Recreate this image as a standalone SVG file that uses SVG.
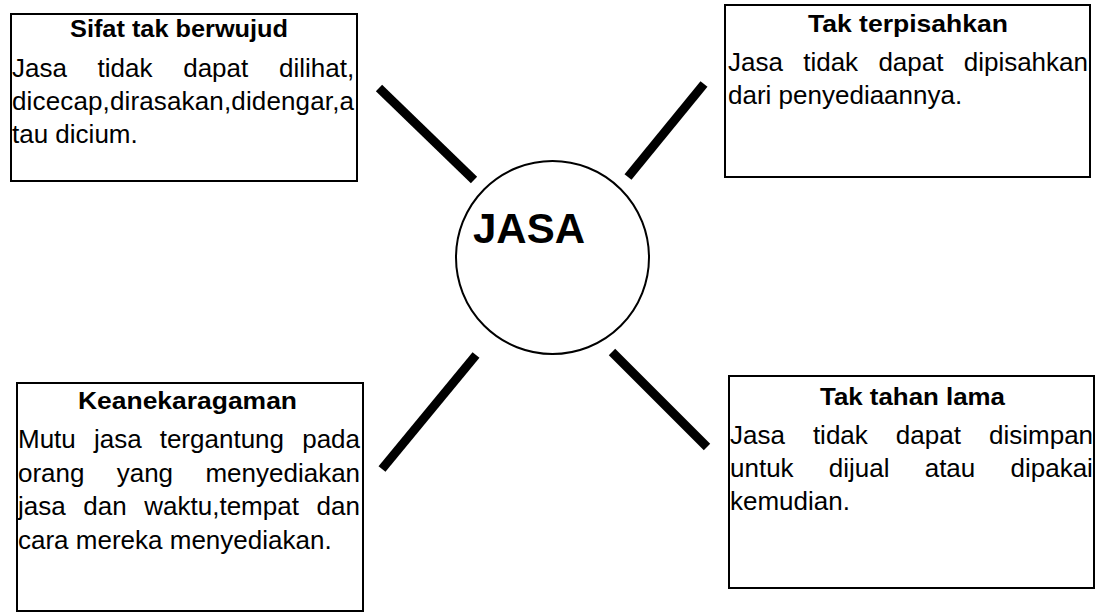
<svg xmlns="http://www.w3.org/2000/svg" width="1097" height="615" viewBox="0 0 1097 615">
  <style>
    .box { fill: #fff; stroke: #000; stroke-width: 2; }
    .hub { fill: #fff; stroke: #000; stroke-width: 2; }
    .title { font-family: "Liberation Sans", Arial, sans-serif; font-weight: bold; font-size: 24px; fill: #000; }
    .body { font-family: "Liberation Sans", Arial, sans-serif; font-size: 26px; fill: #000; }
    .hubtext { font-family: "Liberation Sans", Arial, sans-serif; font-weight: bold; font-size: 42px; fill: #000; }
    .spoke { stroke: #000; stroke-width: 9; stroke-linecap: butt; fill: none; }
  </style>
  <rect width="1097" height="615" fill="#fff"/>

  <!-- spokes from the centre circle to the four boxes -->
  <g id="connectors">
    <line class="spoke" x1="379" y1="88" x2="474" y2="180"/>
    <line class="spoke" x1="704" y1="84" x2="628" y2="177"/>
    <line class="spoke" x1="476" y1="355" x2="382" y2="469"/>
    <line class="spoke" x1="612" y1="352" x2="707" y2="447"/>
  </g>

  <g id="jasa">
    <circle class="hub" cx="552.5" cy="257.5" r="96.5"/>
    <text class="hubtext" x="473" y="243">JASA</text>
  </g>

  <!-- body lines are justified: first word flush left, last word flush right -->
  <g id="sifat-tak-berwujud">
    <rect class="box" x="11" y="14" width="346" height="167"/>
    <text class="title" x="70" y="37" textLength="218" lengthAdjust="spacingAndGlyphs">Sifat tak berwujud</text>
    <text class="body" y="77"><tspan x="12">Jasa</tspan><tspan x="97.6">tidak</tspan><tspan x="183.2">dapat</tspan><tspan x="279">dilihat,</tspan></text>
    <text class="body" x="12" y="110" textLength="342" lengthAdjust="spacing">dicecap,dirasakan,didengar,a</text>
    <text class="body" x="12" y="143">tau dicium.</text>
  </g>

  <g id="tak-terpisahkan">
    <rect class="box" x="725" y="5" width="365" height="172"/>
    <text class="title" x="808" y="32" textLength="200" lengthAdjust="spacingAndGlyphs">Tak terpisahkan</text>
    <text class="body" y="71"><tspan x="728">Jasa</tspan><tspan x="803.2">tidak</tspan><tspan x="878.4">dapat</tspan><tspan x="963.7">dipisahkan</tspan></text>
    <text class="body" x="728" y="104">dari penyediaannya.</text>
  </g>

  <g id="keanekaragaman">
    <rect class="box" x="17" y="383" width="346" height="228"/>
    <text class="title" x="78" y="409" textLength="219" lengthAdjust="spacingAndGlyphs">Keanekaragaman</text>
    <text class="body" y="448"><tspan x="18">Mutu</tspan><tspan x="93.9">jasa</tspan><tspan x="159.7">tergantung</tspan><tspan x="302.2">pada</tspan></text>
    <text class="body" y="482"><tspan x="18">orang</tspan><tspan x="116.7">yang</tspan><tspan x="205.4">menyediakan</tspan></text>
    <text class="body" y="515"><tspan x="18">jasa</tspan><tspan x="83.3">dan</tspan><tspan x="144.3">waktu,tempat</tspan><tspan x="316.5">dan</tspan></text>
    <text class="body" x="18" y="549">cara mereka menyediakan.</text>
  </g>

  <g id="tak-tahan-lama">
    <rect class="box" x="729" y="376" width="365" height="212"/>
    <text class="title" x="820" y="405" textLength="185" lengthAdjust="spacingAndGlyphs">Tak tahan lama</text>
    <text class="body" y="444"><tspan x="730">Jasa</tspan><tspan x="812.9">tidak</tspan><tspan x="895.8">dapat</tspan><tspan x="989">disimpan</tspan></text>
    <text class="body" y="477"><tspan x="730">untuk</tspan><tspan x="828.8">dijual</tspan><tspan x="924.7">atau</tspan><tspan x="1010.5">dipakai</tspan></text>
    <text class="body" x="730" y="510">kemudian.</text>
  </g>
</svg>
